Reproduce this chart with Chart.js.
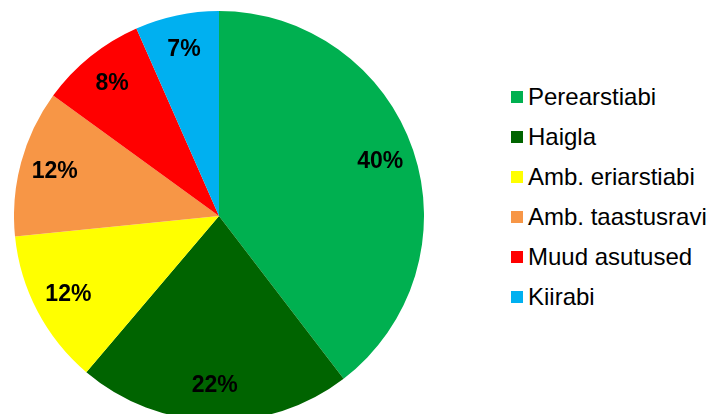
<!DOCTYPE html>
<html>
<head>
<meta charset="utf-8">
<script src="https://cdn.jsdelivr.net/npm/chart.js@4"></script>
<style>
  html, body { margin: 0; padding: 0; background: #fff; overflow: hidden; width: 708px; height: 414px; }
  #pieBox { position: absolute; left: 14px; top: 11px; width: 410px; height: 410px; }
  #legend { position: absolute; left: 511px; top: 77px; margin: 0; padding: 0; list-style: none;
            font-family: "Liberation Sans", Arial, sans-serif; font-size: 24px; color: #000; }
  #legend li { height: 40px; display: flex; align-items: center; white-space: nowrap; }
  #legend span.box { display: inline-block; width: 12px; height: 12px; margin-right: 5px; }
</style>
</head>
<body>
<div id="pieBox"><canvas id="myChart"></canvas></div>
<ul id="legend"></ul>
<script>
// Andmed (loetud jooniselt)
const categories = ['Perearstiabi', 'Haigla', 'Amb. eriarstiabi', 'Amb. taastusravi', 'Muud asutused', 'Kiirabi'];
const shares = [39.6, 21.6, 12.2, 11.6, 8.4, 6.6];
const sliceColors = ['#00B050', '#006400', '#FFFF00', '#F79646', '#FF0000', '#00B0F0'];

Chart.defaults.font.family = '"Liberation Sans", Arial, sans-serif';

// protsendid sektorite sees
const pctLabels = {
  id: 'pctLabels',
  afterDatasetsDraw(chart) {
    const ctx = chart.ctx;
    const meta = chart.getDatasetMeta(0);
    const total = shares.reduce((a, b) => a + b, 0);
    ctx.save();
    ctx.font = 'bold 23px "Liberation Sans", Arial, sans-serif';
    ctx.fillStyle = '#000';
    ctx.textAlign = 'center';
    ctx.textBaseline = 'middle';
    meta.data.forEach((arc, i) => {
      const p = arc.getProps(['x', 'y', 'startAngle', 'endAngle', 'outerRadius'], true);
      const mid = (p.startAngle + p.endAngle) / 2;
      const r = p.outerRadius * 0.83;
      const txt = Math.round(shares[i] / total * 100) + '%';
      ctx.fillText(txt, p.x + Math.cos(mid) * r, p.y + Math.sin(mid) * r);
    });
    ctx.restore();
  }
};

// HTML legend
const htmlLegend = {
  id: 'htmlLegend',
  afterUpdate(chart) {
    const ul = document.getElementById('legend');
    ul.innerHTML = '';
    const items = chart.options.plugins.legend.labels.generateLabels(chart);
    items.forEach(item => {
      const li = document.createElement('li');
      const box = document.createElement('span');
      box.className = 'box';
      box.style.background = item.fillStyle;
      li.appendChild(box);
      li.appendChild(document.createTextNode(item.text));
      ul.appendChild(li);
    });
  }
};

const ctx = document.getElementById('myChart').getContext('2d');
const myChart = new Chart(ctx, {
  type: 'pie',
  data: {
    labels: categories,
    datasets: [{
      data: shares,
      backgroundColor: sliceColors,
      borderWidth: 0
    }]
  },
  options: {
    responsive: true,
    maintainAspectRatio: false,
    animation: false,
    layout: { padding: 0 },
    plugins: {
      legend: { display: false },
      tooltip: { enabled: false }
    }
  },
  plugins: [pctLabels, htmlLegend]
});
</script>
</body>
</html>
